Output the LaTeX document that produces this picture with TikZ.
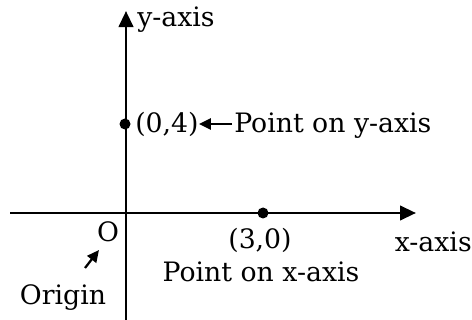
\documentclass[tikz,border=0pt]{standalone}
\usepackage{fontspec}
\setmainfont{DejaVu Serif}
\usetikzlibrary{arrows.meta}
\begin{document}
\begin{tikzpicture}[x=0.025cm,y=-0.025cm,
    axis/.style={line width=2pt,-{Triangle[length=0.4cm,width=0.36cm]}},
    pointer/.style={line width=1.6pt,-{Triangle[length=0.3cm,width=0.28cm]}},
    lbl/.style={inner sep=0pt,font=\fontsize{19}{22}\selectfont}]
        \useasboundingbox (0,0) rectangle (472,320);

        % Achsen
        \coordinate (xl) at (10,213);
        \coordinate (xr) at (416,213);
        \coordinate (yb) at (126,320);
        \coordinate (yt) at (126,11);
        \draw[axis] (xl) -- (xr);
        \draw[axis] (yb) -- (yt);

        % Punkte
        \fill (125,124) coordinate (P) circle (5.5);
        \fill (263,213) coordinate (Q) circle (5.5);

        % Beschriftungen
        \node[lbl, anchor=west] (ylab) at (137,20) {y-axis};
        \node[lbl, anchor=east] (xlab) at (472,242) {x-axis};
        \node[lbl, anchor=west] (pc) at (135,124) {(0,4)};
        \node[lbl, anchor=west] (pt) at (234,126) {Point on y-axis};
        \node[lbl] (qc) at (260,240) {(3,0)};
        \node[lbl] (qt) at (261,272) {Point on x-axis};
        \node[lbl] (o) at (108,232) {O};
        \node[lbl] (orig) at (63,298) {Origin};

        % Pfeile
        \draw[pointer] (pt.west) ++(-2,-2) coordinate (pa) -- (pc.east);
        \coordinate (oa) at (85,268);
        \coordinate (ob) at (99,250);
        \draw[pointer] (oa) -- (ob);
\end{tikzpicture}
\end{document}
